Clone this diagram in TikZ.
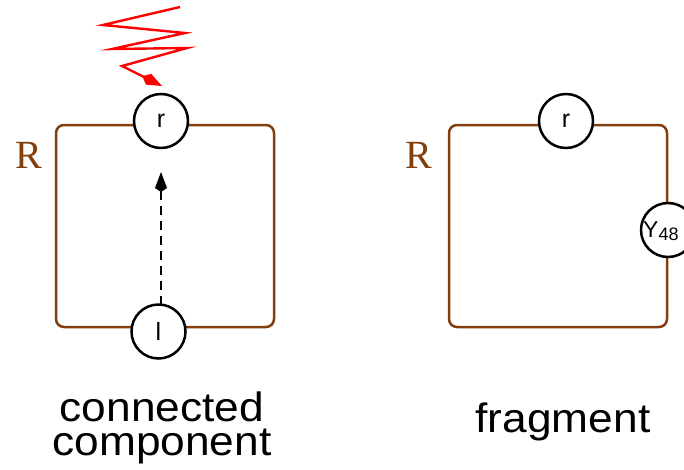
\documentclass[tikz,border=0pt]{standalone}
\usepackage{fontspec}
\setmainfont{Liberation Sans}
\newfontfamily\serifR{Liberation Serif}
\usetikzlibrary{arrows.meta}
\definecolor{boxbrown}{RGB}{130,62,12}
\tikzset{
  frame/.style={draw=boxbrown, line width=2.5pt, rounded corners=8pt},
  port/.style={circle, draw=black, line width=2.5pt, fill=white, minimum size=54pt, inner sep=0pt, font=\fontsize{25}{25}\selectfont},
  rlabel/.style={text=boxbrown, font=\serifR\fontsize{40}{40}\selectfont, inner sep=0pt},
  caption/.style={font=\fontsize{41}{34}\selectfont, inner sep=0pt, align=center, anchor=base},
}
\begin{document}
\begin{tikzpicture}[x=1pt, y=-1pt]
\useasboundingbox (0,0) rectangle (684,469);
\clip (0,0) rectangle (684,469);
% left component
\draw[frame] (56,125) rectangle (274,327);
\node[port] (r1) at (161,121) {r};
\node[port] (l1) at (158.5,331.5) {l};
\node[rlabel, anchor=base] (R1) at (29,168) {R};
\coordinate (tip) at (161,172);
\draw[line width=2.6pt, dash pattern=on 9pt off 6pt, -{Kite[length=20pt,width=12pt,inset=4pt]}] (161,305) -- (tip);
% red zigzag
\coordinate (z0) at (180,7);
\coordinate (z1) at (103,25);
\coordinate (z2) at (185,33);
\coordinate (z3) at (112,49);
\coordinate (z4) at (187,48);
\coordinate (z5) at (122,66);
\coordinate (z6) at (162,86);
\draw[red, line width=2.4pt, line join=miter, -{Kite[length=22pt,width=12pt,inset=7pt]}] (z0) -- (z1) -- (z2) -- (z3) -- (z4) -- (z5) -- (z6);
\node[caption] (cap1) at (162,455) {\scalebox{1.08}[1]{connected}\\\scalebox{1.08}[1]{component}};
% right fragment
\draw[frame] (449,125) rectangle (667,327);
\node[port] (r2) at (566,121) {r};
\node[port] (y2) at (668,230) {};
\node[anchor=base west, inner sep=0pt, font=\fontsize{23}{23}\selectfont] (y2t) at (643,237) {Y\raisebox{-3pt}{\fontsize{18}{18}\selectfont 48}};
\node[rlabel, anchor=base] (R2) at (419,168) {R};
\node[caption] (cap2) at (563,432) {\scalebox{1.08}[1]{fragment}};
\end{tikzpicture}
\end{document}
